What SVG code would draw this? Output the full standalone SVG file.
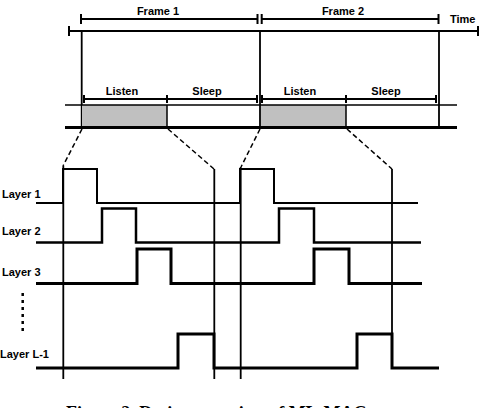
<svg xmlns="http://www.w3.org/2000/svg" width="481" height="408" viewBox="0 0 481 408">
<style>
.lbl{font-family:"Liberation Sans",Arial,sans-serif;font-weight:bold;font-size:11px;fill:#000}
.cap{font-family:"Liberation Serif","Times New Roman",serif;font-weight:bold;font-size:18px;fill:#000}
.ln{stroke:#000;fill:none}
.dash{stroke:#000;stroke-width:1.5;stroke-dasharray:5 3;fill:none}
.wave{stroke:#000;fill:none;stroke-linejoin:miter}
</style>
<rect width="481" height="408" fill="#fff"/>
<g id="timeline">
  <g id="frame-brackets" class="ln" stroke-width="2">
    <path d="M81,19H257.5M81,14V24M257.5,14V24"/>
    <path d="M261.7,19H438.5M261.7,14V24M438.5,14V24"/>
  </g>
  <g id="time-axis" class="ln" stroke-width="2">
    <path d="M69,31H478M69,26V36M478,26V36"/>
  </g>
  <text class="lbl" x="158" y="15" text-anchor="middle">Frame 1</text>
  <text class="lbl" x="343" y="15" text-anchor="middle">Frame 2</text>
  <text class="lbl" x="450" y="23">Time</text>
  <g id="frame-boundaries" class="ln" stroke-width="1.8">
    <path d="M81.7,31V128M260,31V128M439,31V128"/>
  </g>
  <g id="listen-sleep-brackets" class="ln" stroke-width="2">
    <path d="M84,99H257M84,95V103M167,95V103M257,95V103"/>
    <path d="M262,99H436M262,95V103M346,95V103M436,95V103"/>
  </g>
  <text class="lbl" x="122" y="95" text-anchor="middle">Listen</text>
  <text class="lbl" x="207" y="95" text-anchor="middle">Sleep</text>
  <text class="lbl" x="300" y="95" text-anchor="middle">Listen</text>
  <text class="lbl" x="386" y="95" text-anchor="middle">Sleep</text>
  <rect x="82" y="105" width="85" height="22" fill="#c0c0c0"/>
  <rect x="261" y="105" width="85" height="22" fill="#c0c0c0"/>
  <g class="ln" stroke-width="1.5">
    <path d="M65,105H457"/>
    <path d="M167,105V128M346,105V128"/>
  </g>
  <path class="ln" stroke-width="3" d="M65,127.5H457"/>
</g>
<g id="connectors">
  <path class="dash" d="M82,129L63,166"/>
  <path class="dash" d="M168,129L214,169"/>
  <path class="dash" d="M260,129L241,167"/>
  <path class="dash" d="M347,129L392,169"/>
</g>
<g id="layers">
  <g id="slot-lines" class="ln" stroke-width="1.8">
    <path d="M63.3,166V379M214.3,169V379M240.7,167V379M392,169V368"/>
  </g>
  <g id="layer1">
    <text class="lbl" x="2" y="198">Layer 1</text>
    <polyline class="wave" stroke-width="2" points="36,203 63,203 63,169 97,169 97,203 240,203 240,169 274,169 274,203 418,203"/>
  </g>
  <g id="layer2">
    <text class="lbl" x="2" y="235">Layer 2</text>
    <polyline class="wave" stroke-width="2.5" points="36,242.5 102,242.5 102,208.5 136,208.5 136,242.5 279,242.5 279,208.5 314,208.5 314,242.5 421,242.5"/>
  </g>
  <g id="layer3">
    <text class="lbl" x="2" y="276">Layer 3</text>
    <polyline class="wave" stroke-width="3" points="36,283.5 137,283.5 137,249 171,249 171,283.5 314,283.5 314,249 349,249 349,283.5 422,283.5"/>
  </g>
  <g id="dots">
    <path class="ln" stroke-width="2.5" stroke-dasharray="3 4" d="M22.7,293V334"/>
  </g>
  <g id="layerL-1">
    <text class="lbl" x="0" y="358">Layer L-1</text>
    <polyline class="wave" stroke-width="3" points="36,368 178,368 178,334 214,334 214,368 357,368 357,334 392,334 392,368 439,368"/>
  </g>
</g>
<text class="cap" x="66" y="419">Figure 2. Design overview of ML-MAC</text>
</svg>
